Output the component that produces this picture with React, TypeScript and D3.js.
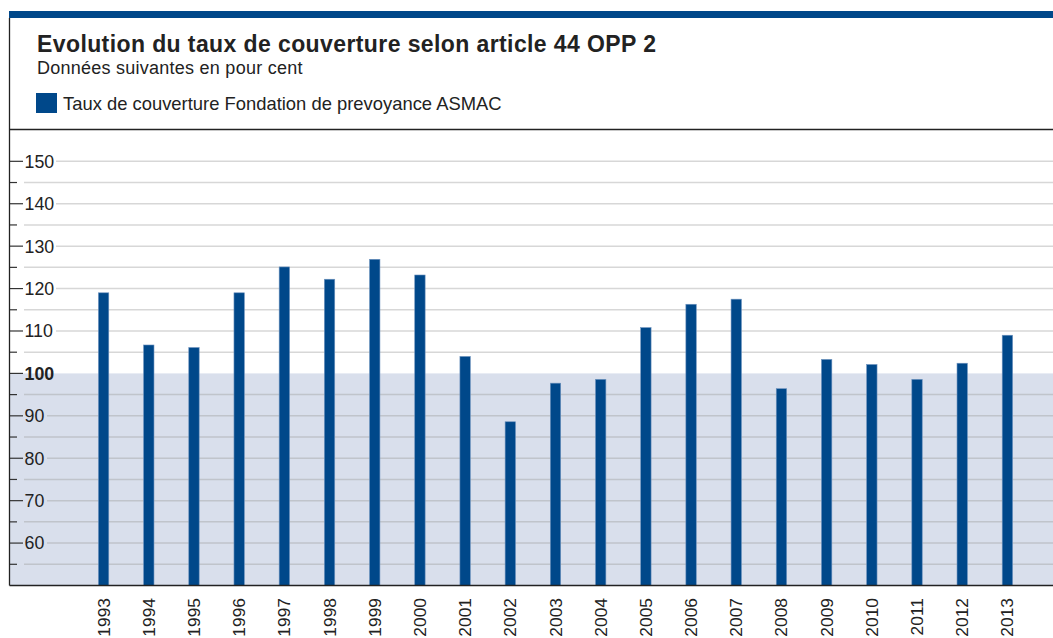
import React, { Component } from "react";
import * as d3 from "d3";

// chart data
const years = ["1993", "1994", "1995", "1996", "1997", "1998", "1999", "2000", "2001", "2002", "2003",
  "2004", "2005", "2006", "2007", "2008", "2009", "2010", "2011", "2012", "2013"];
const coverage = [119.0, 106.7, 106.1, 119.0, 125.1, 122.2, 126.9, 123.2, 104.0, 88.6, 97.7,
  98.6, 110.8, 116.3, 117.5, 96.4, 103.3, 102.1, 98.6, 102.4, 109.0];
const majorTicks = [60, 70, 80, 90, 100, 110, 120, 130, 140, 150];
const minorTicks = [55, 65, 75, 85, 95, 105, 115, 125, 135, 145];

const title = "Evolution du taux de couverture selon article 44 OPP 2";
const subtitle = "Données suivantes en pour cent";
const legendLabel = "Taux de couverture Fondation de prevoyance ASMAC";

class App extends Component {
  node: SVGSVGElement | null = null;

  componentDidMount() {
    this.drawChart();
  }

  drawChart() {
    var width = 1053
    var height = 638
    var blue = "#00488a"
    var font = "'Liberation Sans', Arial, sans-serif"

    var svg = d3.select(this.node)
    svg.selectAll("*").remove()
    svg.attr("width", width).attr("height", height)

    var left = 9.5      // left frame line
    var top = 129.5     // line under the header
    var bottom = 585.5  // x axis line

    // scales
    var y = d3.scaleLinear().domain([50, 157.5]).range([bottom, top])
    var x = d3.scaleBand()
      .domain(years)
      .range([81, 1030])
      .paddingInner(0.77)
      .paddingOuter(0.385)

    // header: blue band, title, subtitle, legend
    svg.append("rect")
      .attr("x", 9).attr("y", 11).attr("width", width - 9).attr("height", 7)
      .attr("fill", blue)

    svg.append("text")
      .attr("x", 37).attr("y", 52)
      .attr("font-family", font).attr("font-size", 23).attr("font-weight", "bold")
      .attr("letter-spacing", 0.4)
      .attr("fill", "#222")
      .text(title)

    svg.append("text")
      .attr("x", 37).attr("y", 74)
      .attr("font-family", font).attr("font-size", 18)
      .attr("letter-spacing", 0.25)
      .attr("fill", "#222")
      .text(subtitle)

    svg.append("rect")
      .attr("x", 36).attr("y", 93).attr("width", 21).attr("height", 20)
      .attr("fill", blue)

    svg.append("text")
      .attr("x", 63).attr("y", 110)
      .attr("font-family", font).attr("font-size", 18.4)
      .attr("fill", "#222")
      .text(legendLabel)

    // shaded zone under 100 %
    svg.append("rect")
      .attr("x", left).attr("y", y(100))
      .attr("width", width - left).attr("height", bottom - y(100))
      .attr("fill", "#d9dfec")

    // grid lines
    svg.selectAll(".minor-grid")
      .data(minorTicks)
      .enter()
      .append("line")
      .attr("x1", 24).attr("x2", width)
      .attr("y1", d => y(d)).attr("y2", d => y(d))
      .attr("stroke", "#9a9a9a").attr("stroke-opacity", 0.4).attr("stroke-width", 1.5)

    svg.selectAll(".major-grid")
      .data(majorTicks.filter(d => d !== 100))
      .enter()
      .append("line")
      .attr("x1", d => d >= 100 ? 56 : 47).attr("x2", width)
      .attr("y1", d => y(d)).attr("y2", d => y(d))
      .attr("stroke", "#9a9a9a").attr("stroke-opacity", 0.4).attr("stroke-width", 1.5)

    // bars
    svg.selectAll(".bar")
      .data(coverage)
      .enter()
      .append("rect")
      .attr("x", (d, i) => x(years[i]) as number)
      .attr("y", d => y(d))
      .attr("width", x.bandwidth())
      .attr("height", d => bottom - y(d))
      .attr("fill", blue)
      .attr("stroke", "#6e93bf").attr("stroke-width", 0.6)

    // y axis ticks + labels
    svg.selectAll(".major-tick")
      .data(majorTicks)
      .enter()
      .append("line")
      .attr("x1", left).attr("x2", 23)
      .attr("y1", d => y(d)).attr("y2", d => y(d))
      .attr("stroke", "#333").attr("stroke-width", 1.2)

    svg.selectAll(".minor-tick")
      .data(minorTicks)
      .enter()
      .append("line")
      .attr("x1", left).attr("x2", 17)
      .attr("y1", d => y(d)).attr("y2", d => y(d))
      .attr("stroke", "#333").attr("stroke-width", 1.2)

    svg.selectAll(".y-label")
      .data(majorTicks)
      .enter()
      .append("text")
      .attr("x", 24.5)
      .attr("y", d => y(d))
      .attr("dy", "0.36em")
      .attr("font-family", font).attr("font-size", 17.8)
      .attr("font-weight", d => d === 100 ? "bold" : "normal")
      .attr("fill", "#222")
      .text(d => d)

    // year labels, rotated (kept just inside the bottom edge)
    svg.selectAll(".x-label")
      .data(years)
      .enter()
      .append("text")
      .attr("transform", d => "translate(" + ((x(d) as number) + x.bandwidth() / 2 + 6) + "," + 598 + ") rotate(-90)")
      .attr("text-anchor", "end")
      .attr("font-family", font).attr("font-size", 17.4)
      .attr("fill", "#222")
      .text(d => d)

    // frame lines
    svg.append("line")
      .attr("x1", left).attr("x2", left).attr("y1", 18).attr("y2", bottom)
      .attr("stroke", "#222").attr("stroke-width", 1.3)
    svg.append("line")
      .attr("x1", left).attr("x2", width).attr("y1", top).attr("y2", top)
      .attr("stroke", "#222").attr("stroke-width", 1.3)
    svg.append("line")
      .attr("x1", left).attr("x2", width).attr("y1", bottom).attr("y2", bottom)
      .attr("stroke", "#222").attr("stroke-width", 1.3)
  }

  render() {
    return <svg ref={el => { this.node = el }} style={{ position: "absolute", left: 0, top: 0 }}></svg>
  }
}

export default App;
